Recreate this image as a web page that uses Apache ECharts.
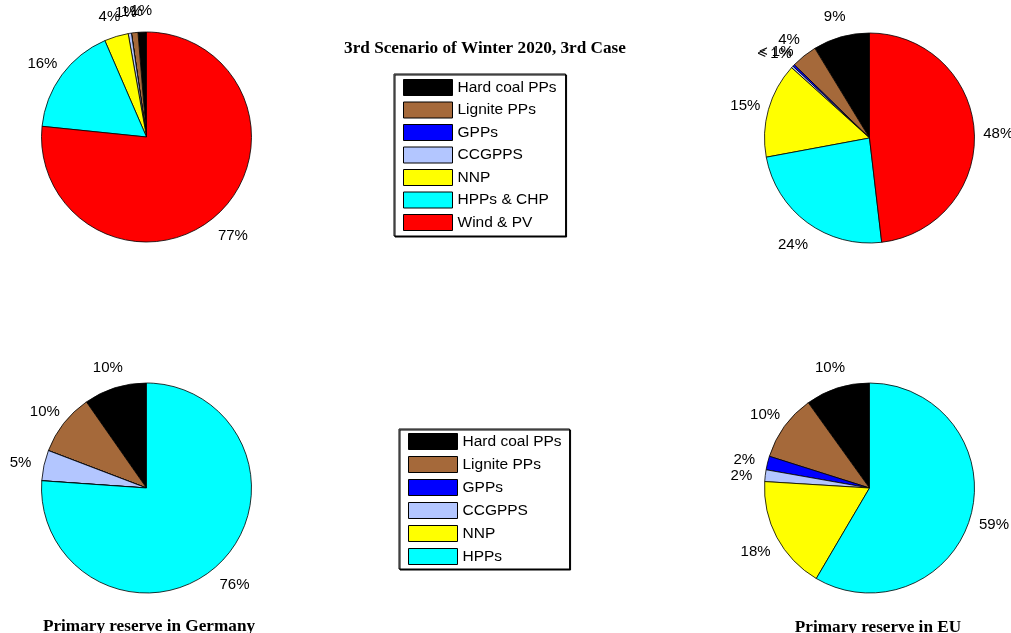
<!DOCTYPE html>
<html>
<head>
<meta charset="utf-8">
<script src="https://cdn.jsdelivr.net/npm/echarts@6/dist/echarts.min.js"></script>
<style>
html,body{margin:0;padding:0;background:#fff;}
#chart{width:1011px;height:633px;}
</style>
</head>
<body>
<div id="chart"></div>
<script>
// ---- data ----
const categoriesTop = ['Hard coal PPs','Lignite PPs','GPPs','CCGPPS','NNP','HPPs & CHP','Wind & PV'];
const categoriesBottom = ['Hard coal PPs','Lignite PPs','GPPs','CCGPPS','NNP','HPPs'];
const colorsTop = ['#000000','#a5693a','#0000ff','#b3c6ff','#ffff00','#00ffff','#ff0000'];

const winterGermanyValues = [1.3, 1.0, 0, 0.5, 3.7, 16.9, 76.7];
const winterGermanyLabels = ['1%','1%','','1%','4%','16%','77%'];

const winterEUValues = [8.7, 4.0, 0.3, 0.3, 14.6, 23.9, 48.1];
const winterEULabels = ['9%','4%','< 1%','< 1%','15%','24%','48%'];

const primaryGermanyValues = [9.7, 9.5, 0, 4.7, 0, 76.1];
const primaryGermanyLabels = ['10%','10%','','5%','','76%'];

const primaryEUValues = [9.9, 10.2, 2.1, 1.8, 17.5, 58.4];
const primaryEULabels = ['10%','10%','2%','2%','18%','59%'];

const mainTitle = '3rd Scenario of Winter 2020, 3rd Case';
const titleGermany = 'Primary reserve in Germany';
const titleEU = 'Primary reserve in EU';

// ---- build ----
const R = 105;
const labelFont = 'Liberation Sans, Arial, Helvetica, sans-serif';
const titleFont = 'Liberation Serif, Times New Roman, serif';

function pieSeries(cats, vals, center) {
  return {
    type: 'pie',
    center: center,
    radius: [0, R],
    startAngle: 90,
    clockwise: false,
    silent: true,
    avoidLabelOverlap: false,
    label: {show: false},
    labelLine: {show: false},
    data: cats.map((c, i) => ({
      name: c, value: vals[i],
      itemStyle: {color: colorsTop[i], borderColor: '#000', borderWidth: 0.8}
    }))
  };
}
function labelSeries(cats, vals, labels, center) {
  return {
    type: 'pie',
    center: center,
    radius: [R * 1.2 - 7, R * 1.2 + 7],
    startAngle: 90,
    clockwise: false,
    silent: true,
    avoidLabelOverlap: false,
    labelLayout: {hideOverlap: false},
    itemStyle: {color: 'rgba(0,0,0,0)', borderWidth: 0},
    label: {
      show: true, position: 'inside', rotate: 0,
      color: '#000', fontSize: 15, fontFamily: labelFont,
      align: 'center', verticalAlign: 'middle', offset: [0, 3],
      formatter: p => labels[p.dataIndex]
    },
    labelLine: {show: false},
    data: cats.map((c, i) => ({name: c, value: vals[i]}))
  };
}

const cTL = [146.5, 137], cTR = [869.5, 138], cBL = [146.5, 488], cBR = [869.5, 488];

const legendCommon = {
  orient: 'vertical',
  backgroundColor: '#fff',
  borderColor: '#000',
  borderWidth: 1,
  shadowColor: '#000',
  shadowBlur: 0,
  shadowOffsetX: 1,
  shadowOffsetY: 1,
  itemWidth: 49,
  itemHeight: 16,
  icon: 'rect',
  selectedMode: false,
  itemStyle: {borderColor: '#000', borderWidth: 1},
  textStyle: {fontSize: 15.5, fontFamily: labelFont, color: '#000'}
};

const titleStyle = {fontSize: 17.2, fontWeight: 'bold', fontFamily: titleFont, color: '#000'};

const option = {
  backgroundColor: '#fff',
  animation: false,
  title: [
    {text: mainTitle, left: 480, top: 35, textAlign: 'center', textStyle: titleStyle},
    {text: titleGermany, left: 144, top: 613, textAlign: 'center', textStyle: titleStyle},
    {text: titleEU, left: 873, top: 614, textAlign: 'center', textStyle: titleStyle}
  ],
  legend: [
    Object.assign({}, legendCommon, {
      data: categoriesTop, left: 394, top: 74, padding: [5, 9, 5, 9], itemGap: 5.5
    }),
    Object.assign({}, legendCommon, {
      data: categoriesBottom, left: 399, top: 429, padding: [4, 8, 4, 9], itemGap: 6
    })
  ],
  series: [
    pieSeries(categoriesTop, winterGermanyValues, cTL),
    pieSeries(categoriesTop, winterEUValues, cTR),
    pieSeries(categoriesBottom, primaryGermanyValues, cBL),
    pieSeries(categoriesBottom, primaryEUValues, cBR),
    labelSeries(categoriesTop, winterGermanyValues, winterGermanyLabels, cTL),
    labelSeries(categoriesTop, winterEUValues, winterEULabels, cTR),
    labelSeries(categoriesBottom, primaryGermanyValues, primaryGermanyLabels, cBL),
    labelSeries(categoriesBottom, primaryEUValues, primaryEULabels, cBR)
  ]
};

const chart = echarts.init(document.getElementById('chart'), null, {renderer: 'canvas'});
chart.setOption(option);
</script>
</body>
</html>
